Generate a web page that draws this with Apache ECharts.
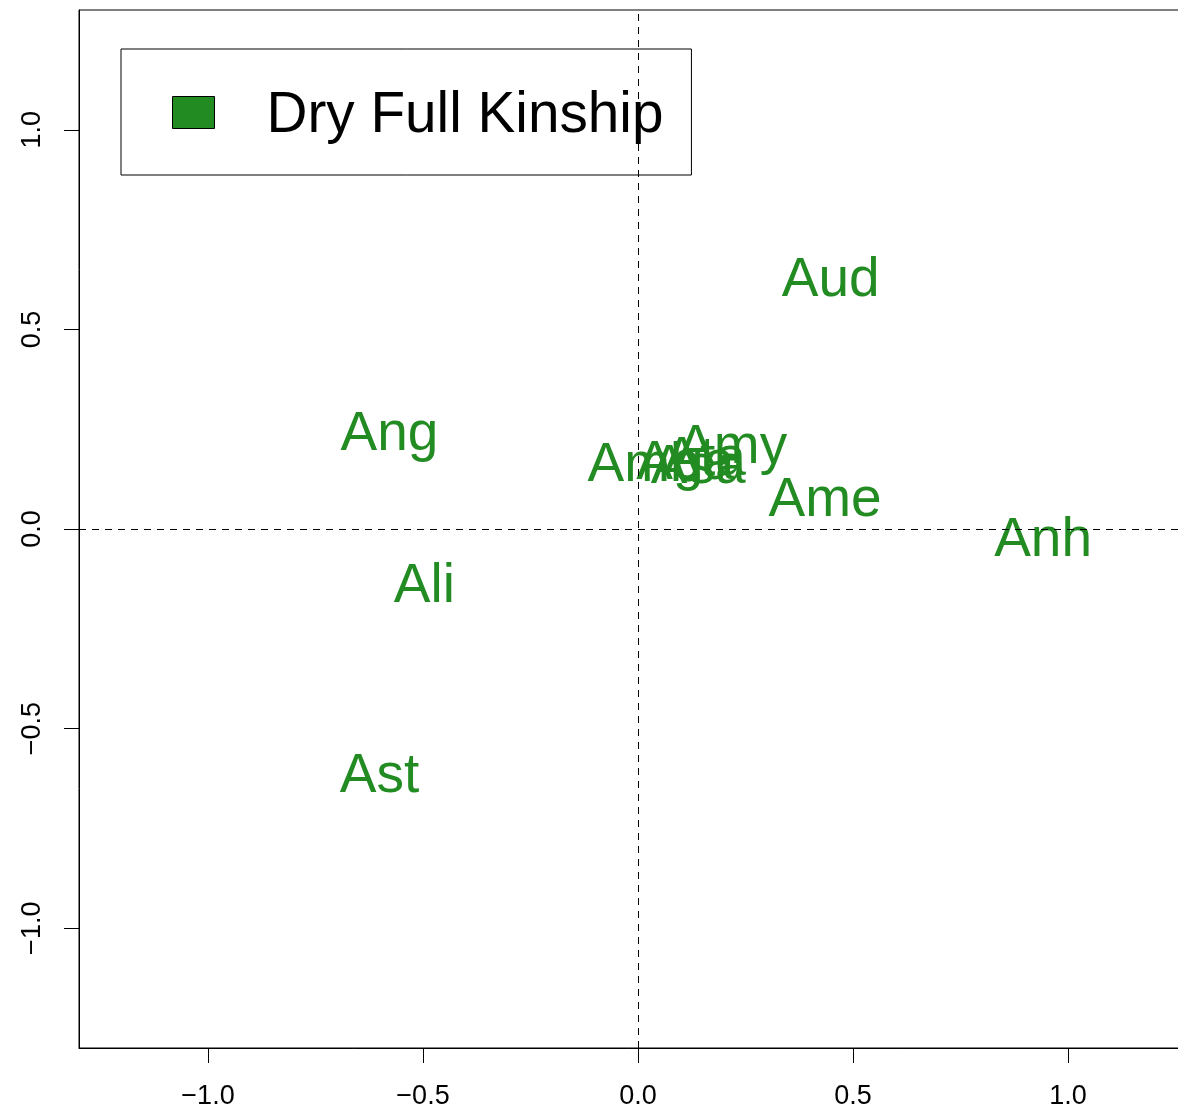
<!DOCTYPE html>
<html>
<head>
<meta charset="utf-8">
<script src="https://cdn.jsdelivr.net/npm/echarts@6/dist/echarts.min.js"></script>
<style>
  html, body { margin: 0; padding: 0; background: #fff; }
  #chart { width: 1178px; height: 1109px; }
</style>
</head>
<body>
<div id="chart"></div>
<script>
// Individuals placed on the first two axes
const names = ['Aud', 'Ang', 'Amy', 'Amb', 'Asa', 'Ata', 'Aga', 'Ame', 'Anh', 'Ali', 'Ast'];
const dim1 = [0.448, -0.578, 0.219, 0.014, 0.140, 0.155, 0.110, 0.435, 0.942, -0.497, -0.601];
const dim2 = [0.622, 0.236, 0.204, 0.157, 0.152, 0.174, 0.164, 0.071, -0.030, -0.146, -0.622];
const tickValues = [-1.0, -0.5, 0.0, 0.5, 1.0];
const seriesName = 'Dry Full Kinship';

const GREEN = '#228B22';
const FONT = '"Liberation Sans", Arial, Helvetica, sans-serif';
const fmt = v => v.toFixed(1).replace('-', '\u2212');

const points = names.map((n, i) => ({ name: n, value: [dim1[i], dim2[i]] }));

const axisCommon = {
  type: 'value',
  min: -1.3,
  max: 1.3,
  splitLine: { show: false },
  axisLine: { show: true, onZero: false, lineStyle: { color: '#000', width: 1 } },
  axisTick: { show: true, inside: false, length: 15, customValues: tickValues,
              lineStyle: { color: '#000', width: 1 } }
};

const chart = echarts.init(document.getElementById('chart'), null, { renderer: 'canvas' });
chart.setOption({
  animation: false,
  backgroundColor: '#fff',
  grid: {
    left: 79, top: 10, width: 1118, height: 1038,
    show: true, borderColor: '#000', borderWidth: 1, backgroundColor: 'transparent',
    containLabel: false, outerBoundsMode: 'none'
  },
  xAxis: Object.assign({}, axisCommon, {
    axisLabel: { customValues: tickValues, formatter: fmt, margin: 35,
                 fontSize: 27, color: '#000', fontFamily: FONT }
  }),
  yAxis: Object.assign({}, axisCommon, {
    axisLabel: { customValues: tickValues, formatter: fmt, margin: 33, rotate: 90,
                 fontSize: 27, color: '#000', fontFamily: FONT }
  }),
  legend: {
    z: 1,
    left: 121, top: 49,
    orient: 'horizontal',
    icon: 'rect',
    itemWidth: 42, itemHeight: 32,
    padding: [39, 28, 30, 51],
    borderColor: '#000', borderWidth: 1,
    backgroundColor: 'transparent',
    itemStyle: { borderColor: '#000', borderWidth: 1, opacity: 1 },
    formatter: name => '{t|' + name + '}',
    textStyle: {
      fontSize: 56.7, color: '#000', fontFamily: FONT,
      rich: { t: { fontSize: 56.7, color: '#000', fontFamily: FONT, padding: [8, 0, 0, 47] } }
    },
    data: [{ name: seriesName,
             itemStyle: { color: GREEN, opacity: 1, borderColor: '#000', borderWidth: 1 } }]
  },
  series: [{
    name: seriesName,
    type: 'scatter',
    z: 3,
    symbolSize: 0,
    itemStyle: { color: GREEN, opacity: 1 },
    data: points,
    label: {
      show: true,
      position: 'inside',
      formatter: '{b}',
      color: GREEN,
      opacity: 1,
      fontSize: 55,
      fontFamily: FONT,
      align: 'center',
      verticalAlign: 'middle'
    },
    labelLayout: { hideOverlap: false },
    markLine: {
      silent: true,
      symbol: 'none',
      label: { show: false },
      lineStyle: { color: '#000', width: 1, type: [7, 6], opacity: 1 },
      data: [{ xAxis: 0 }, { yAxis: 0 }]
    }
  }]
});
</script>
</body>
</html>
